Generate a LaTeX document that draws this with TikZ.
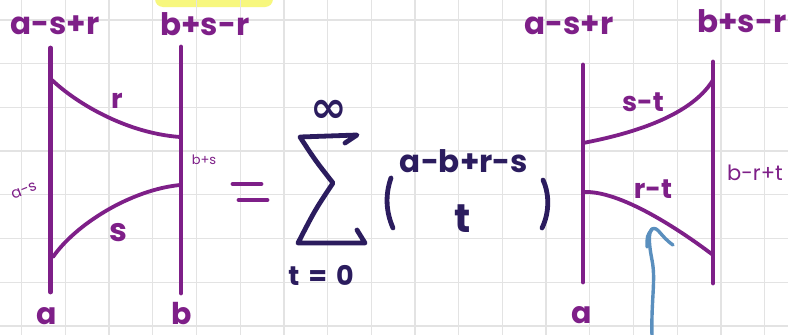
\documentclass[tikz,border=0pt]{standalone}
\usepackage{fontspec}
\setmainfont{Poppins}
\newfontfamily\symfont{DejaVu Sans}
\definecolor{pur}{HTML}{7E1F88}
\definecolor{navy}{HTML}{2B1C5E}
\definecolor{penblue}{HTML}{5A8FBE}
\definecolor{gridc}{HTML}{E3E3E3}
\definecolor{hilite}{HTML}{F7F77E}
\begin{document}
\begin{tikzpicture}[x=1pt,y=-1pt,
  wire/.style={pur, line width=4.8pt, line cap=round},
  strand/.style={pur, line width=3.8pt, line cap=round},
  biglbl/.style={pur, font=\fontsize{31}{31}\selectfont\bfseries, inner sep=0pt},
  midlbl/.style={pur, font=\fontsize{27}{27}\selectfont\bfseries, inner sep=0pt},
  smalllbl/.style={pur, font=\fontsize{13}{13}\selectfont, inner sep=0pt},
  navylbl/.style={navy, font=\fontsize{31}{31}\selectfont\bfseries, inner sep=0pt},
  navyline/.style={navy, line width=4.8pt, line cap=round, line join=round}]
\useasboundingbox (0,0) rectangle (788,335);
\fill[white] (0,0) rectangle (788,335);
% highlight
\fill[hilite, rounded corners=8pt] (155,-10) rectangle (273,7);
% grid
\foreach \k in {0,...,17} \draw[gridc, line width=1.3pt] ({21.7+43.7*\k},0) -- ({21.7+43.7*\k},335);
\foreach \k in {0,...,7} \draw[gridc, line width=1.3pt] (0,{20+43.7*\k}) -- (788,{20+43.7*\k});

% ---------- left diagram ----------
\coordinate (L1t) at (50.5,48);
\coordinate (L1b) at (50.5,292);
\coordinate (L2t) at (181,47);
\coordinate (L2b) at (181,293);
\coordinate (Lra) at (52,80);
\coordinate (Lrb) at (180,137);
\coordinate (Lsa) at (53,257);
\coordinate (Lsb) at (180,185);
\draw[wire] (L1t) -- (L1b);
\draw[wire] (L2t) -- (L2b);
\draw[strand] (Lra) .. controls (75,102) and (125,133) .. (Lrb);
\draw[strand] (Lsa) .. controls (75,225) and (130,190) .. (Lsb);
\node[biglbl] (Ltl) at (55,25) {a-s+r};
\node[biglbl] (Ltr) at (205,24) {b+s-r};
\node[midlbl] (Lr) at (117,101) {r};
\node[midlbl, font=\fontsize{32}{32}\selectfont\bfseries] (Ls) at (118,233) {s};
\node[smalllbl, font=\fontsize{15}{15}\selectfont, rotate=22] (Las) at (24,191) {a-s};
\node[smalllbl] (Lbs) at (204,160) {b+s};
\node[biglbl, font=\fontsize{30}{30}\selectfont\bfseries, anchor=base] (La) at (47,324) {a};
\node[biglbl, font=\fontsize{30}{30}\selectfont\bfseries, anchor=base] (Lb) at (182,324) {b};

% equals
\coordinate (e1a) at (233,184); \coordinate (e1b) at (261,184);
\coordinate (e2a) at (239,200); \coordinate (e2b) at (267,200);
\draw[wire] (e1a) -- (e1b);
\draw[wire] (e2a) -- (e2b);

% ---------- sum ----------
\draw[navyline] (345,143) -- (357,135) -- (300,137) .. controls (315,160) .. (333,183)
  .. controls (315,210) .. (298,243) -- (365,243) -- (357,230);
\node[navy, font=\symfont\fontsize{44}{44}\selectfont\bfseries, inner sep=0pt] (inf) at (329,111) {∞};
\node[navylbl, font=\fontsize{27}{27}\selectfont\bfseries] (t0) at (321,275) {t\,\,=\,\,0};
\draw[navyline] (391,178) .. controls (385,195) and (386,212) .. (393,228);
\draw[navyline] (543,180) .. controls (550,195) and (549,214) .. (542,228);
\node[navylbl] (top) at (464,161) {a-b+r-s};
\node[navylbl, font=\fontsize{40}{40}\selectfont\bfseries] (tt) at (463,219) {t};

% ---------- right diagram ----------
\coordinate (R1t) at (583,65);
\coordinate (R1b) at (583,282);
\coordinate (R2t) at (713,62);
\coordinate (R2b) at (713,283);
\coordinate (Rsa) at (583,143);
\coordinate (Rsb) at (713,80);
\coordinate (Rra) at (583,192);
\coordinate (Rrb) at (713,255);
\draw[wire] (R1t) -- (R1b);
\draw[wire] (R2t) -- (R2b);
\draw[strand] (Rsa) .. controls (625,135) and (690,118) .. (Rsb);
\draw[strand] (Rra) .. controls (620,190) and (680,230) .. (Rrb);
\node[biglbl] (Rtl) at (569,25) {a-s+r};
\node[biglbl] (Rtr) at (742,21) {b+s-r};
\node[midlbl] (Rst) at (643,102) {s-t};
\node[midlbl] (Rrt) at (653,189) {r-t};
\node[smalllbl, font=\fontsize{21}{21}\selectfont] (Rbrt) at (755,173) {b-r+t};
\node[biglbl, font=\fontsize{30}{30}\selectfont\bfseries, anchor=base] (Ra) at (582,323) {a};

% blue arrow
\coordinate (arrB) at (652,336);
\coordinate (arrT) at (652,229);
\draw[penblue, line width=3.4pt, line cap=round, line join=round]
  (arrB) .. controls (651,300) and (656,280) .. (652,260) .. controls (648,240) and (649,232) .. (arrT)
  .. controls (658,226) and (660,236) .. (673,245);
\draw[penblue, line width=3.4pt, line cap=round] (arrT) .. controls (647,236) .. (647,247);
\end{tikzpicture}
\end{document}
